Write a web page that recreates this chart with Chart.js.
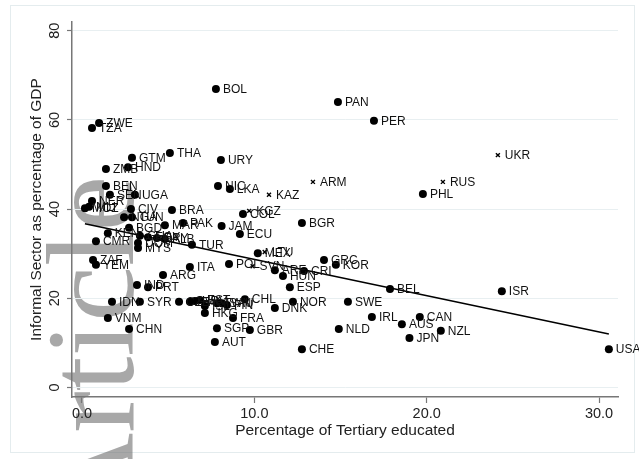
<!DOCTYPE html>
<html>
<head>
<meta charset="utf-8">
<script src="https://cdn.jsdelivr.net/npm/chart.js@4.4.1/dist/chart.umd.min.js"></script>
<style>
  html, body { margin: 0; padding: 0; background: #fff; }
  #wrap { width: 639px; height: 459px; }
</style>
</head>
<body>
<div id="wrap"><canvas id="chart" width="639" height="459"></canvas></div>
<script>
// countries drawn as filled dots
const codes = ['BOL','PAN','PER','ZWE','TZA','THA','GTM','URY','HND','ZMB',
  'NIC','LKA','BEN','PHL','SEN','UGA','NER','MOZ','MLI','CIV',
  'BRA','COL','NGA','TUN','BGR','MAR','PAK','JAM','BGD','KEN',
  'GHA','EGY','PRY','ALB','ECU','CMR','DOM','MYS','TUR','MEX',
  'ZAF','YEM','GRC','KOR','ITA','POL','ARE','CRI','HUN','ARG',
  'IND','PRT','ESP','BEL','ISR','IDN','SYR','CZE','SVK','HRV',
  'EST','ISL','TWN','SAU','FIN','CHL','NOR','SWE','DNK','HKG',
  'VNM','FRA','IRL','CAN','AUS','NZL','CHN','SGP','GBR','NLD',
  'JPN','AUT','CHE','USA'];
const tertiary = [7.77,14.85,16.94,0.99,0.58,5.10,2.90,8.06,2.67,1.39,
  7.89,8.58,1.39,19.78,1.62,3.07,0.58,0.17,0.41,2.84,
  5.22,9.34,2.44,2.90,12.76,4.81,5.86,8.10,2.73,1.50,
  3.36,3.83,4.35,4.81,9.16,0.81,3.25,3.25,6.38,10.20,
  0.64,0.81,14.04,14.73,6.26,8.53,11.19,12.88,11.66,4.70,
  3.19,3.83,12.06,17.87,24.36,1.74,3.36,5.63,6.26,6.55,
  6.84,7.13,7.83,8.12,8.41,9.45,12.24,15.43,11.19,7.13,
  1.50,8.76,16.82,19.60,18.56,20.82,2.73,7.83,9.74,14.90,
  19.00,7.71,12.76,30.57];
const informal = [66.9,64.0,59.8,59.3,58.2,52.6,51.5,51.0,49.4,49.0,
  45.2,44.5,45.2,43.4,43.2,43.2,41.8,40.2,40.5,40.0,
  39.8,38.9,38.2,38.2,36.9,36.4,36.9,36.2,35.8,34.6,
  34.0,33.7,33.5,33.3,34.4,32.8,32.4,31.3,32.0,30.1,
  28.6,27.5,28.6,27.5,27.0,27.7,26.3,26.1,25.0,25.2,
  23.0,22.5,22.5,22.1,21.6,19.2,19.2,19.2,19.2,19.4,
  19.6,18.3,18.9,18.9,18.5,19.8,19.2,19.2,17.8,16.7,
  15.6,15.6,15.8,15.8,14.2,12.7,13.1,13.3,12.9,13.1,
  11.1,10.2,8.6,8.6];

// countries drawn as small crosses
const codesX = ['UKR','RUS','ARM','KAZ','KGZ','LTU','SVN'];
const tertiaryX = [24.13,20.94,13.40,10.85,9.70,10.60,9.90];
const informalX = [52.1,46.1,46.1,43.2,39.6,30.4,27.2];

const fitX = [0.17, 30.57];
const fitY = [36.7, 12.0];

const xTicks = [0, 10, 20, 30];
const yTicks = [0, 20, 40, 60, 80];

const toPoints = (xs, ys) => xs.map((x, i) => ({ x: x, y: ys[i] }));

const frameAndMark = {
  id: 'frameAndMark',
  beforeDraw(chart) {
    const ctx = chart.ctx;
    ctx.save();
    ctx.fillStyle = '#fff';
    ctx.fillRect(0, 0, chart.width, chart.height);
    ctx.strokeStyle = '#e4ecee';
    ctx.lineWidth = 1;
    ctx.strokeRect(10.5, 5.5, 624, 447);
    // grey watermark running up the left side
    ctx.translate(133, 176);
    ctx.rotate(-Math.PI / 2);
    ctx.font = '125px "Liberation Serif", "DejaVu Serif", serif';
    ctx.fillStyle = 'rgba(110,110,110,0.6)';
    ctx.textAlign = 'right';
    ctx.textBaseline = 'alphabetic';
    ctx.fillText('Article', 0, 0);
    ctx.restore();
  }
};

const pointLabels = {
  id: 'pointLabels',
  afterDatasetsDraw(chart) {
    const ctx = chart.ctx;
    ctx.save();
    ctx.font = '12px "Liberation Sans", Arial, sans-serif';
    ctx.fillStyle = '#111';
    ctx.textAlign = 'left';
    ctx.textBaseline = 'middle';
    chart.data.datasets.forEach((ds, i) => {
      if (!ds.codes) return;
      chart.getDatasetMeta(i).data.forEach((pt, j) => {
        ctx.fillText(ds.codes[j], pt.x + 7, pt.y + 0.5);
      });
    });
    ctx.restore();
  }
};

const tickFont = { family: '"Liberation Sans", Arial, sans-serif', size: 14.5 };
const titleFont = { family: '"Liberation Sans", Arial, sans-serif', size: 15.5 };

new Chart(document.getElementById('chart'), {
  type: 'scatter',
  data: {
    datasets: [
      {
        type: 'line',
        data: toPoints(fitX, fitY),
        borderColor: '#000',
        borderWidth: 1.5,
        pointRadius: 0,
        fill: false
      },
      {
        data: toPoints(tertiary, informal),
        codes: codes,
        pointStyle: 'circle',
        pointRadius: 4,
        backgroundColor: '#000',
        borderColor: '#000',
        borderWidth: 0
      },
      {
        data: toPoints(tertiaryX, informalX),
        codes: codesX,
        pointStyle: 'crossRot',
        pointRadius: 2.8,
        borderColor: '#000',
        borderWidth: 1.4
      }
    ]
  },
  options: {
    responsive: false,
    animation: false,
    layout: { padding: { left: 0, right: 21, top: 22, bottom: 0 } },
    plugins: {
      legend: { display: false },
      tooltip: { enabled: false }
    },
    scales: {
      x: {
        type: 'linear',
        min: -0.58,
        max: 31.1,
        afterBuildTicks: s => { s.ticks = xTicks.map(v => ({ value: v })); },
        afterFit: s => { s.height = 62; },
        ticks: {
          font: tickFont,
          color: '#222',
          padding: 2,
          maxRotation: 0,
          callback: v => Number(v).toFixed(1)
        },
        grid: {
          drawOnChartArea: false,
          tickLength: 6,
          tickColor: '#777',
          tickWidth: 1.2
        },
        border: { color: '#777', width: 1.5 },
        title: {
          display: true,
          text: 'Percentage of Tertiary educated',
          font: titleFont,
          color: '#222',
          padding: { top: 0, bottom: 18.7 }
        }
      },
      y: {
        type: 'linear',
        min: -2.13,
        max: 81.95,
        afterBuildTicks: s => { s.ticks = yTicks.map(v => ({ value: v })); },
        afterFit: s => { s.width = 72; },
        ticks: {
          font: tickFont,
          color: '#222',
          padding: 4,
          minRotation: 90,
          maxRotation: 90,
          crossAlign: 'center'
        },
        grid: {
          color: '#e8eff1',
          lineWidth: 1,
          tickLength: 5,
          tickColor: '#777',
          tickWidth: 1.2
        },
        border: { color: '#777', width: 1.5 },
        title: {
          display: true,
          text: 'Informal Sector as percentage of GDP',
          font: titleFont,
          color: '#222',
          padding: { top: 27.7, bottom: 0 }
        }
      }
    }
  },
  plugins: [frameAndMark, pointLabels]
});
</script>
</body>
</html>
